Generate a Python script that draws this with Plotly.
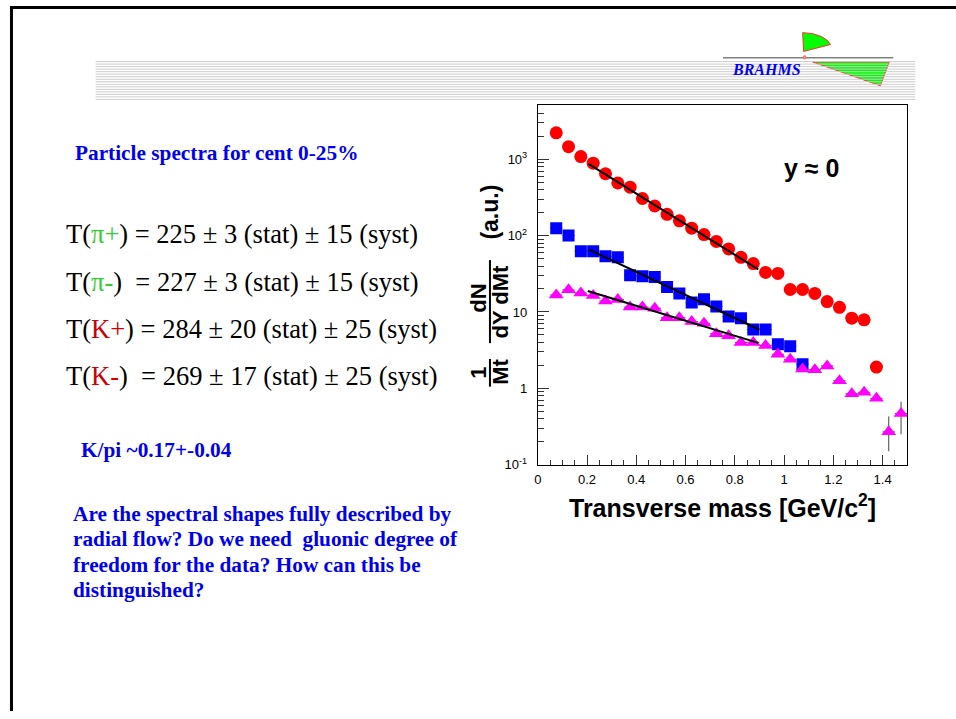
import plotly.graph_objects as go

# ---------------- data ----------------
mt_pi = [0.075, 0.125, 0.175, 0.225, 0.275, 0.325, 0.375, 0.425, 0.475, 0.525,
         0.575, 0.625, 0.675, 0.725, 0.775, 0.825, 0.875, 0.925, 0.975, 1.025,
         1.075, 1.125, 1.175, 1.225, 1.275, 1.325, 1.375]
pi_y = [2218, 1460, 1084, 888, 645, 489, 430, 306, 244, 190,
        156, 125, 103, 84, 67, 52, 43, 33, 32, 19.7,
        19.7, 17.5, 13.7, 11.5, 8.3, 7.9, 1.9]

mt_kp = [0.075, 0.125, 0.175, 0.225, 0.275, 0.325, 0.375, 0.425, 0.475, 0.525,
         0.575, 0.625, 0.675, 0.725, 0.775, 0.825, 0.875, 0.925, 0.975, 1.025,
         1.075]
kp_y = [125, 100, 62.5, 62.5, 53.5, 52, 30.3, 29.3, 28.8, 21.2,
        17.5, 13.3, 14.7, 11.8, 8.7, 8.3, 5.9, 5.9, 3.77, 3.57,
        2.07]

mt_km = [0.075, 0.125, 0.175, 0.225, 0.275, 0.325, 0.375, 0.425, 0.475, 0.525,
         0.575, 0.625, 0.675, 0.725, 0.775, 0.825, 0.875, 0.925, 0.975, 1.025,
         1.075, 1.125, 1.175, 1.225, 1.275, 1.325, 1.375, 1.425, 1.475]
km_y = [16.7, 19.5, 17.7, 16.5, 13.9, 14.6, 11.6, 11.6, 11.2, 8.4,
        8.4, 7.5, 7.1, 5.2, 4.9, 4.0, 4.0, 3.65, 2.8, 2.4,
        1.79, 1.76, 1.97, 1.26, 0.85, 0.89, 0.74, 0.27, 0.47]
km_err_plus = [0] * 27 + [0.16, 0.20]
km_err_minus = [0] * 27 + [0.12, 0.22]

bin_half_width = 0.025

fit_pi_x = [0.206, 0.895]
fit_pi_y = [869, 36.2]
fit_kp_x = [0.206, 0.899]
fit_kp_y = [66, 5.9]
fit_km_x = [0.203, 0.895]
fit_km_y = [18.8, 3.94]

y_tick_vals = [0.1, 1, 10, 100, 1000]
y_tick_text = ["10<sup>-1</sup>", "1", "10", "10<sup>2</sup>", "10<sup>3</sup>"]

# ---------------- page geometry helpers ----------------
W, H = 956, 719


def px(x):
    return x / W


def py(y):
    return 1 - y / H


SANS = "Liberation Sans, Arial, sans-serif"
SERIF = "Liberation Serif, Times New Roman, serif"
BLUE = "#0000f0"

minor_vals = [k * 10 ** n for n in range(-1, 4) for k in range(2, 10) if k * 10 ** n < 5100]

fig = go.Figure()

err_x = dict(type="constant", value=bin_half_width, thickness=1, width=0, color="#555555")

fig.add_trace(go.Scatter(x=mt_pi, y=pi_y, mode="markers",
                         marker=dict(symbol="circle", size=13, color="#ff0000"),
                         error_x=err_x))
fig.add_trace(go.Scatter(x=mt_kp, y=kp_y, mode="markers",
                         marker=dict(symbol="square", size=12, color="#0000ff"),
                         error_x=err_x))
fig.add_trace(go.Scatter(x=mt_km, y=km_y, mode="markers",
                         marker=dict(symbol="triangle-up", size=13, color="#ff00ff"),
                         error_x=err_x,
                         error_y=dict(type="data", array=km_err_plus, arrayminus=km_err_minus,
                                      thickness=1, width=0, color="#444444")))
for fx, fy in [(fit_pi_x, fit_pi_y), (fit_kp_x, fit_kp_y), (fit_km_x, fit_km_y)]:
    fig.add_trace(go.Scatter(x=fx, y=fy, mode="lines", line=dict(color="black", width=2)))

fig.update_layout(
    width=W, height=H,
    margin=dict(l=0, r=0, t=0, b=0),
    paper_bgcolor="white", plot_bgcolor="white",
    showlegend=False,
    xaxis=dict(
        domain=[px(536), px(907)], range=[0, 1.5],
        tick0=0, dtick=0.2, ticks="inside", ticklen=10, tickwidth=1, tickcolor="#333333",
        showline=True, linecolor="black", linewidth=1, mirror=True,
        showgrid=False, zeroline=False,
        tickfont=dict(family=SANS, size=13, color="black"),
        ticklabelstandoff=3,
        minor=dict(dtick=0.05, tick0=0, ticks="inside", ticklen=5, tickwidth=1,
                   tickcolor="#333333", showgrid=False),
    ),
    yaxis=dict(
        type="log", domain=[py(470), py(106)], range=[-1, 3.712],
        tickmode="array", tickvals=y_tick_vals, ticktext=y_tick_text,
        ticks="inside", ticklen=11, tickwidth=1, tickcolor="#333333",
        showline=True, linecolor="black", linewidth=1, mirror=True,
        showgrid=False, zeroline=False,
        tickfont=dict(family=SANS, size=13, color="black"),
        ticklabelstandoff=7,
        minor=dict(tickmode="array", tickvals=minor_vals, ticks="inside", ticklen=6,
                   tickwidth=1, tickcolor="#333333", showgrid=False),
    ),
)

ann = []


def text(x, y, t, size, color="black", family=SERIF, xanchor="left", angle=0):
    ann.append(dict(x=px(x), y=py(y), xref="paper", yref="paper", text=t,
                    showarrow=False, xanchor=xanchor, yanchor="middle", textangle=angle,
                    borderpad=0, font=dict(family=family, size=size, color=color)))


GREEN = "#33cc33"
RED = "#cc0000"
NB = "\u00a0"

text(70, 155, "<b>Particle spectra for cent 0-25%</b>", 21.3, BLUE)
text(61, 237, f"T(<span style='color:{GREEN}'>π+</span>) = 225 ± 3 (stat) ± 15 (syst)", 26.5)
text(61, 285, f"T(<span style='color:{GREEN}'>π-</span>){NB} = 227 ± 3 (stat) ± 15 (syst)", 26.5)
text(61, 333, f"T(<span style='color:{RED}'>K+</span>) = 284 ± 20 (stat) ± 25 (syst)", 26.5)
text(61, 380, f"T(<span style='color:{RED}'>K-</span>){NB} = 269 ± 17 (stat) ± 25 (syst)", 26.5)
text(76, 455, "<b>K/pi ~0.17+-0.04</b>", 21.3, BLUE)
para = ["Are the spectral shapes fully described by",
        f"radial flow? Do we need {NB}gluonic degree of",
        "freedom for the data? How can this be",
        "distinguished?"]
for i, line in enumerate(para):
    text(68, 520 + 25.5 * i, f"<b>{line}</b>", 21.3, BLUE)

# chart texts
text(782, 170, "<b>y ≈ 0</b>", 25, "black", SANS)
text(722, 512, "<b>Transverse mass [GeV/c<sup>2</sup>]</b>", 25, "black", SANS, xanchor="center")
text(477, 377, "<b>1</b>", 22, "black", SANS, xanchor="center", angle=-90)
text(499, 376, "<b>Mt</b>", 22, "black", SANS, xanchor="center", angle=-90)
text(477, 302, "<b>dN</b>", 22, "black", SANS, xanchor="center", angle=-90)
text(499, 305, "<b>dY dMt</b>", 22, "black", SANS, xanchor="center", angle=-90)
text(488, 214, "<b>(a.u.)</b>", 23, "black", SANS, xanchor="center", angle=-90)

# logo text
text(730, 70.5, "<b><i>BRAHMS</i></b>", 16, BLUE)

fig.update_layout(annotations=ann)

shapes = []


def pline(x0, y0, x1, y1, color, width, layer="above"):
    shapes.append(dict(type="line", xref="paper", yref="paper",
                       x0=px(x0), y0=py(y0), x1=px(x1), y1=py(y1),
                       line=dict(color=color, width=width), layer=layer))


def ppath(pts, fill, line_color, width=1, close=True, layer="above"):
    d = "M " + " L ".join(f"{px(a):.5f},{py(b):.5f}" for a, b in pts)
    if close:
        d += " Z"
    shapes.append(dict(type="path", xref="paper", yref="paper", path=d,
                       fillcolor=fill, line=dict(color=line_color, width=width), layer=layer))


# slide border
ppath([(7.5, 719), (7.5, 7.5), (956, 7.5)], "rgba(0,0,0,0)", "black", 3, close=False)

# fraction bars of the y-axis title
pline(488, 363, 488, 391, "black", 2)
pline(488, 263, 488, 347, "black", 2)

# logo pieces
ppath([(803, 52), (802, 33), (812, 34), (821, 37), (827, 41), (830, 45)], "#00ff00", "#ff3030", 1)
ppath([(812, 62.7), (889, 62.7), (880, 86.7)], "#00ff00", "#ff3030", 1)
pline(722, 58.3, 893, 58.3, "#808080", 1.5)
ppath([(803, 56.5), (805, 56.5), (805, 59.5), (803, 59.5)], "#ffaaaa", "#ff6060", 1)

# header stripes
for i in range(16):
    yy = 62.3 + 2.55 * i
    pline(92, yy, 915, yy, "#cccccc", 1)

fig.update_layout(shapes=shapes)

fig.write_html("out.html", config={"displayModeBar": False},
               post_script="document.body.style.margin='0px';")
